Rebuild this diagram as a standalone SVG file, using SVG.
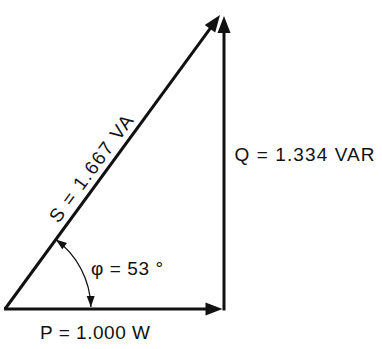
<svg xmlns="http://www.w3.org/2000/svg" width="382" height="349" viewBox="0 0 382 349">
  <style>
    .vec { stroke: #111; stroke-width: 3; fill: none; }
    .arc { stroke: #111; stroke-width: 1.3; fill: none; }
    .lbl { font-family: "Liberation Sans", Arial, Helvetica, sans-serif; font-size: 19px; fill: #111; }
  </style>
  <defs>
    <marker id="bigArrow" markerUnits="userSpaceOnUse" markerWidth="40" markerHeight="40" refX="0" refY="0" orient="auto" overflow="visible">
      <path d="M-7,-6.5 L10,0 L-7,6.5 Z" fill="#111"/>
    </marker>
    <marker id="smallArrow" markerUnits="userSpaceOnUse" markerWidth="30" markerHeight="30" refX="0" refY="0" orient="auto-start-reverse" overflow="visible">
      <path d="M0,0 L-11,-4 L-11,4 Z" fill="#111"/>
    </marker>
  </defs>
  <rect width="382" height="349" fill="#fff"/>
  <g id="connectors">
    <line id="P-vector" class="vec" x1="4" y1="309" x2="212.5" y2="309" marker-end="url(#bigArrow)"/>
    <line id="Q-vector" class="vec" x1="224" y1="310.5" x2="224" y2="26" marker-end="url(#bigArrow)"/>
    <line id="S-vector" class="vec" x1="5" y1="309" x2="214.1" y2="23.1" marker-end="url(#bigArrow)"/>
    <path id="phi-arc" class="arc" d="M55.8,239.6 A86,86 0 0 1 90.9,307" marker-start="url(#smallArrow)" marker-end="url(#smallArrow)"/>
  </g>
  <g id="label-S">
    <text class="lbl" transform="translate(102,176.5) rotate(-53.7)" x="0" y="-7" text-anchor="middle" textLength="128">S = 1.667 VA</text>
  </g>
  <g id="label-Q">
    <text class="lbl" x="234.5" y="161" textLength="140">Q = 1.334 VAR</text>
  </g>
  <g id="label-P">
    <text class="lbl" x="40" y="339" textLength="110">P = 1.000 W</text>
  </g>
  <g id="label-phi">
    <text class="lbl" x="91" y="274.5" textLength="72">φ = 53 °</text>
  </g>
</svg>
